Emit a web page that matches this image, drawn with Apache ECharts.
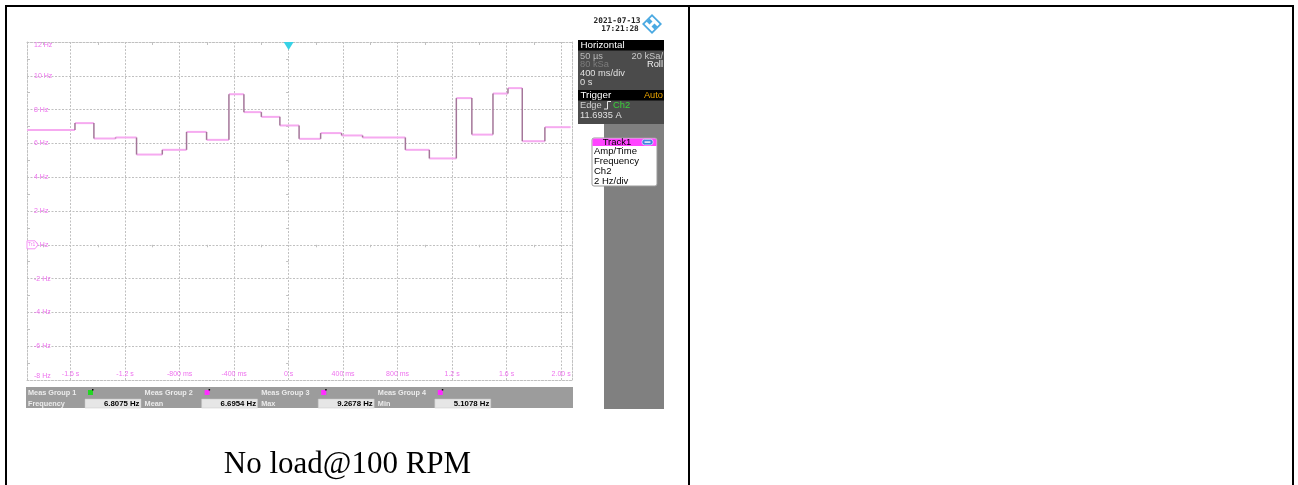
<!DOCTYPE html>
<html>
<head>
<meta charset="utf-8">
<script src="https://cdn.jsdelivr.net/npm/echarts@6/dist/echarts.min.js"></script>
<style>
  html, body { margin: 0; padding: 0; background: #fff; }
  #page { position: relative; width: 1298px; height: 485px; overflow: hidden; }
  #chart { position: absolute; left: 0; top: 0; width: 1298px; height: 485px; }
  .rule { position: absolute; background: #000; }
  #caption { position: absolute; left: 7px; width: 681px; top: 445px; text-align: center;
             font-family: "Liberation Serif", "DejaVu Serif", serif; font-size: 31px; color: #000; }
</style>
</head>
<body>
<div id="page">
  <div id="chart"></div>
  <div class="rule" style="left:5px;top:5px;width:1289px;height:2px"></div>
  <div class="rule" style="left:5px;top:5px;width:2px;height:480px"></div>
  <div class="rule" style="left:688px;top:5px;width:2px;height:480px"></div>
  <div class="rule" style="left:1292px;top:5px;width:2px;height:480px"></div>
  <div id="caption">No load@100 RPM</div>
</div>
<script>
// Track1: frequency of Ch2 per cycle, held until the next cycle completes
const timeEdges = [-1.92, -1.568, -1.429, -1.270, -1.116, -0.927, -0.749, -0.602, -0.438,
                   -0.328, -0.200, -0.064, 0.077, 0.235, 0.389, 0.543, 0.857, 1.033, 1.231,
                   1.345, 1.500, 1.610, 1.715, 1.881, 2.07];
const freqHz = [6.80, 7.20, 6.29, 6.35, 5.34, 5.62, 6.68, 6.21, 8.91, 7.85, 7.57, 7.06,
                6.27, 6.61, 6.47, 6.35, 5.62, 5.11, 8.68, 6.52, 8.95, 9.27, 6.13, 6.96];

// Time axis (400 ms/div)
const xTickValues = [-1.6, -1.2, -0.8, -0.4, 0, 0.4, 0.8, 1.2, 1.6, 2.0];
const xTickLabels = ['-1.6 s', '-1.2 s', '-800 ms', '-400 ms', '0 s', '400 ms', '800 ms', '1.2 s', '1.6 s', '2.00 s'];
const xHalfTicks = [-1.8, -1.4, -1.0, -0.6, -0.2, 0.2, 0.6, 1.0, 1.4, 1.8];

// Frequency axis (2 Hz/div)
const yTickValues = [-8, -6, -4, -2, 0, 2, 4, 6, 8, 10, 12];
const yTickLabels = ['-8 Hz', '-6 Hz', '-4 Hz', '-2 Hz', '0 Hz', '2 Hz', '4 Hz', '6 Hz', '8 Hz', '10 Hz', '12 Hz'];
const yHalfTicks = [-7, -5, -3, -1, 1, 3, 5, 7, 9, 11];

// Measurement bar
const measGroups = ['Meas Group 1', 'Meas Group 2', 'Meas Group 3', 'Meas Group 4'];
const measNames = ['Frequency', 'Mean', 'Max', 'Min'];
const measValues = ['6.8075 Hz', '6.6954 Hz', '9.2678 Hz', '5.1078 Hz'];
const measColors = ['#22d622', '#ff2cff', '#ff2cff', '#ff2cff'];

const segments = freqHz.map((v, i) => [timeEdges[i], timeEdges[i + 1], v, i > 0 ? freqHz[i - 1] : v]);

function pick(values, labels) {
  return function (v) {
    const i = values.findIndex(t => Math.abs(t - v) < 1e-6);
    return i >= 0 ? labels[i] : '';
  };
}

const GRID = '#c0c0c0';
const PINK = '#ee72ee';
const scopeFont = '"Liberation Sans", "DejaVu Sans", sans-serif';
const monoFont = '"DejaVu Sans Mono", "Liberation Mono", monospace';
const dotted = { color: GRID, width: 1, type: [2, 1.5] };

const graphics = [];
function txt(x, y, text, fill, size, opts) {
  graphics.push({
    type: 'text', z: 20,
    style: { x: x, y: y, text: text, fill: fill,
      font: (opts && opts.bold ? 'bold ' : '') + size + 'px ' + ((opts && opts.font) || scopeFont),
      textVerticalAlign: 'middle', textAlign: (opts && opts.align) || 'left' }
  });
}
function box(x, y, w, h, fill, extra) {
  graphics.push({ type: 'rect', z: 10, shape: Object.assign({ x: x, y: y, width: w, height: h }, extra && extra.shape),
    style: Object.assign({ fill: fill }, extra && extra.style) });
}

// date stamp and logo
txt(617, 21, '2021-07-13', '#222', 7.8, { bold: true, align: 'center', font: monoFont });
txt(620, 28.5, '17:21:28', '#222', 7.8, { bold: true, align: 'center', font: monoFont });
graphics.push({ type: 'polygon', z: 12, shape: { points: [[652, 14], [662, 24], [652, 34], [642, 24]] }, style: { fill: '#4aa9e2' } });
graphics.push({ type: 'polygon', z: 13, shape: { points: [[652, 16.5], [659.5, 24], [652, 31.5], [644.5, 24]] }, style: { fill: '#fff' } });
graphics.push({ type: 'polygon', z: 14, shape: { points: [[649.5, 18.5], [652.5, 21.5], [649.5, 24.5], [646.5, 21.5]] }, style: { fill: '#4aa9e2' } });
graphics.push({ type: 'polygon', z: 14, shape: { points: [[654.5, 23.5], [657.5, 26.5], [654.5, 29.5], [651.5, 26.5]] }, style: { fill: '#4aa9e2' } });

// Horizontal / Trigger panel
box(578, 40, 86, 84, '#4b4b4b');
box(578, 40, 86, 10.5, '#000');
txt(580.5, 45.5, 'Horizontal', '#fff', 9.8);
txt(580, 56, '50 µs', '#b8b8b8', 9.3);
txt(663, 56, '20 kSa/', '#c8c8c8', 9.3, { align: 'right' });
txt(580, 64.5, '80 kSa', '#7c7c7c', 9.3);
txt(663, 64.5, 'Roll', '#f0f0f0', 9.3, { align: 'right' });
txt(580, 73.5, '400 ms/div', '#e0e0e0', 9.3);
txt(580, 82.5, '0 s', '#e0e0e0', 9.3);
box(578, 90, 86, 10.5, '#000');
txt(580.5, 95.5, 'Trigger', '#fff', 9.8);
txt(663, 95.5, 'Auto', '#e8a200', 9.3, { align: 'right' });
txt(580, 105.5, 'Edge', '#d0d0d0', 9.3);
graphics.push({ type: 'polyline', z: 20, shape: { points: [[604, 109], [607.5, 109], [607.5, 101.5], [611, 101.5]] }, style: { stroke: '#e8e8e8', lineWidth: 1, fill: null } });
txt(613, 105.5, 'Ch2', '#3ad23a', 9.3);
txt(580, 115, '11.6935 A', '#e0e0e0', 9.3);

// right-hand side bar and Track1 box
box(604, 124, 60, 285, '#808080');
box(592, 138, 65, 48, '#fff', { shape: { r: 2 }, style: { stroke: '#9a9a9a', lineWidth: 1 } });
box(592.5, 138.5, 64, 7.5, '#ff44ff', { shape: { r: [2, 2, 0, 0] } });
txt(617, 142.5, 'Track1', '#000', 9.5, { align: 'center' });
box(642, 139.3, 11, 5.6, '#3f83e0', { shape: { r: 2.5 }, style: { stroke: '#fff', lineWidth: 0.6 } });
box(644.5, 141.4, 6, 1.4, '#fff');
txt(594, 151.5, 'Amp/Time', '#000', 9.5);
txt(594, 161.5, 'Frequency', '#000', 9.5);
txt(594, 171.5, 'Ch2', '#000', 9.5);
txt(594, 181.5, '2 Hz/div', '#000', 9.5);

// measurement results bar
box(26, 387, 547, 21, '#9c9c9c');
measGroups.forEach((g, k) => {
  const ox = 116.6 * k;
  txt(28 + ox, 393, g, '#ececec', 7.3, { bold: true });
  txt(28 + ox, 403.5, measNames[k], '#ececec', 7.3, { bold: true });
  box(88 + ox, 390, 5, 5, measColors[k]);
  box(92 + ox, 389, 1.5, 1.5, '#000');
  box(85 + ox, 399, 56, 9, '#e6e6e6', { style: { stroke: '#c4c4c4', lineWidth: 0.5 } });
  txt(139.5 + ox, 403.5, measValues[k], '#000', 7.8, { bold: true, align: 'right' });
});

const xBase = { type: 'value', min: -1.92, max: 2.08, gridIndex: 0 };
const yBase = { type: 'value', min: -8, max: 12, gridIndex: 0 };

const option = {
  animation: false,
  backgroundColor: '#fff',
  grid: { left: 27, top: 42, width: 545, height: 338, containLabel: false, outerBoundsMode: 'none' },
  xAxis: [
    Object.assign({}, xBase, {
      position: 'bottom',
      axisLine: { show: true, onZero: false, lineStyle: dotted },
      axisTick: { show: false, customValues: xTickValues },
      splitLine: { show: true, lineStyle: dotted },
      axisLabel: { inside: true, customValues: xTickValues, formatter: pick(xTickValues, xTickLabels),
                   color: PINK, fontSize: 7, fontFamily: scopeFont, margin: 2 }
    }),
    Object.assign({}, xBase, {
      position: 'top',
      axisLine: { show: true, onZero: false, lineStyle: dotted },
      axisTick: { show: true, inside: true, length: 3, customValues: xHalfTicks, lineStyle: { color: GRID } },
      splitLine: { show: false }, axisLabel: { show: false }
    }),
    Object.assign({}, xBase, {
      axisLine: { show: false, onZero: true },
      axisTick: { show: true, inside: true, length: 2.5, customValues: xHalfTicks, lineStyle: { color: GRID } },
      splitLine: { show: false }, axisLabel: { show: false }
    })
  ],
  yAxis: [
    Object.assign({}, yBase, {
      position: 'left',
      axisLine: { show: true, onZero: false, lineStyle: dotted },
      axisTick: { show: false, customValues: yTickValues },
      splitLine: { show: true, lineStyle: dotted },
      axisLabel: { inside: true, customValues: yTickValues, formatter: pick(yTickValues, yTickLabels),
                   color: PINK, fontSize: 7, fontFamily: scopeFont, margin: 7,
                   verticalAlignMinLabel: 'bottom', verticalAlignMaxLabel: 'top' }
    }),
    Object.assign({}, yBase, {
      position: 'left',
      axisLine: { show: false, onZero: false },
      axisTick: { show: true, inside: true, length: 3, customValues: yHalfTicks, lineStyle: { color: GRID } },
      splitLine: { show: false }, axisLabel: { show: false }
    }),
    Object.assign({}, yBase, {
      position: 'right',
      axisLine: { show: true, onZero: false, lineStyle: dotted },
      axisTick: { show: false }, splitLine: { show: false }, axisLabel: { show: false }
    }),
    Object.assign({}, yBase, {
      axisLine: { show: false, onZero: true },
      axisTick: { show: true, inside: true, length: 2.5, customValues: yHalfTicks, lineStyle: { color: GRID } },
      splitLine: { show: false }, axisLabel: { show: false }
    })
  ],
  series: [{
    type: 'custom',
    xAxisIndex: 0, yAxisIndex: 0,
    data: segments,
    encode: { x: [0, 1], y: [2, 3] },
    z: 5,
    clip: true,
    renderItem: function (params, api) {
      const a = api.coord([api.value(0), api.value(2)]);
      const b = api.coord([api.value(1), api.value(2)]);
      const p = api.coord([api.value(0), api.value(3)]);
      return {
        type: 'group',
        children: [
          { type: 'line', shape: { x1: a[0], y1: a[1], x2: b[0], y2: b[1] },
            style: { stroke: '#f6aaf0', lineWidth: 2 } },
          { type: 'line', shape: { x1: a[0], y1: p[1], x2: a[0], y2: a[1] },
            style: { stroke: '#a47699', lineWidth: 1.5 } }
        ]
      };
    },
    markPoint: {
      silent: true,
      animation: false,
      data: [
        { coord: [0, 12], symbol: 'triangle', symbolRotate: 180, symbolSize: [10, 8], symbolOffset: [0, 4],
          itemStyle: { color: '#38d2e6' }, label: { show: false } },
        { coord: [-1.92, 0], symbol: 'path://M0,0 L8,0 L11,4 L8,8 L0,8 Z', symbolSize: [11, 8],
          symbolKeepAspect: false, symbolOffset: [5.5, 0],
          itemStyle: { color: '#fff', borderColor: '#f27cf2', borderWidth: 0.8 },
          label: { show: true, position: 'inside', formatter: 'Tr1', fontSize: 5, color: '#f27cf2', offset: [-1, 0] } }
      ]
    }
  }],
  graphic: graphics
};

const chart = echarts.init(document.getElementById('chart'), null, { renderer: 'canvas' });
chart.setOption(option);
</script>
</body>
</html>
